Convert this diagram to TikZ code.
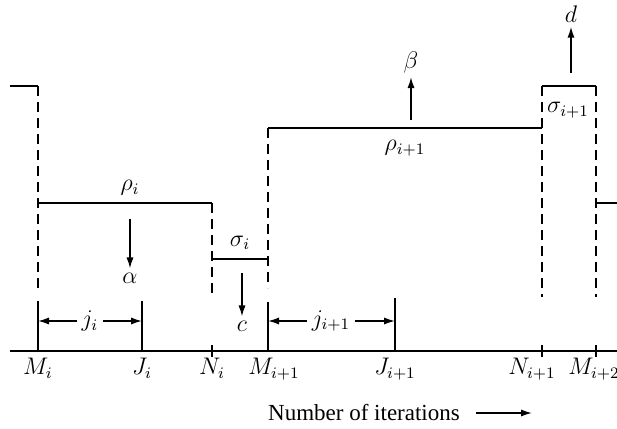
\documentclass[tikz,border=0pt]{standalone}
\usepackage{amsmath,amssymb}
\usepackage{fontspec}
\setmainfont{Liberation Serif}
\usetikzlibrary{arrows.meta}

\tikzset{
  level/.style={line width=1.1pt},
  guide/.style={line width=0.7pt, dash pattern=on 5pt off 3pt},
  tickline/.style={line width=0.7pt},
  pointer/.style={line width=0.8pt, -{Latex[length=5.5pt, width=3.6pt]}},
  lab/.style={inner sep=2pt},
  axlab/.style={below, inner xsep=0.5pt}
}

\begin{document}
\begin{tikzpicture}[x=0.5pt, y=-0.5pt, every node/.style={font=\fontsize{11.5}{13}\selectfont}]
\useasboundingbox (0,0) rectangle (617,429);

% positions on the iteration axis
\coordinate (Mi)   at (38,351);
\coordinate (Ji)   at (142,351);
\coordinate (Ni)   at (212,351);
\coordinate (Mii)  at (268,351);
\coordinate (Jii)  at (395,351);
\coordinate (Nii)  at (542,351);
\coordinate (Miii) at (596,351);

% axis
\draw[level] (10,351) -- (617,351);

% step levels
\draw[level] (10,86) -- (38,86);
\draw[level] (38,203) -- (212,203);
\draw[level] (212,259) -- (268,259);
\draw[level] (268,128) -- (542,128);
\draw[level] (542,86) -- (596,86);
\draw[level] (596,203) -- (617,203);

% dashed guides
\draw[guide] (38,86) -- (38,290);
\draw[guide] (212,203) -- (212,297);
\draw[guide] (268,128) -- (268,288);
\draw[guide] (542,86) -- (542,297);
\draw[guide] (596,86) -- (596,297);

% ticks
\draw[tickline] (Mi) -- ++(0,-50);
\draw[tickline] (Ji) -- ++(0,-50);
\draw[tickline] (Mii) -- ++(0,-49);
\draw[tickline] (Jii) -- ++(0,-53);
\foreach \p in {Ni,Nii,Miii}
  \draw[tickline] (\p) ++(0,-6) -- ++(0,12);

% axis labels
\node[axlab] (lMi)   at (Mi)   {$M_i$};
\node[axlab] (lJi)   at (Ji)   {$J_i$};
\node[axlab] (lNi)   at (Ni)   {$N_i$};
\node[axlab] (lMii)  at ([xshift=3]Mii)  {$M_{i+1}$};
\node[axlab] (lJii)  at (Jii)  {$J_{i+1}$};
\node[axlab] (lNii)  at ([xshift=-5]Nii)  {$N_{i+1}$};
\node[axlab] (lMiii) at ([xshift=-1]Miii) {$M_{i+2}$};

% level labels
\node[lab] (rhoi)   at (130,188) {$\rho_i$};
\node[lab] (sigi)   at (240,243) {$\sigma_i$};
\node[lab] (rhoii)  at (405,148) {$\rho_{i+1}$};
\node[lab] (sigii)  at (568,110) {$\sigma_{i+1}$};

% changes of the levels
\coordinate (alphastart) at (130,219);
\node[lab] (alpha) at (130,278) {$\alpha$};
\draw[pointer] (alphastart) -- (alpha);
\coordinate (cstart) at (242,273);
\node[lab] (c) at (242,326) {$c$};
\draw[pointer] (cstart) -- (c);
\coordinate (betastart) at (411,120);
\node[lab] (beta) at (411,62) {$\beta$};
\draw[pointer] (betastart) -- (beta);
\coordinate (dstart) at (571,73);
\node[lab] (d) at (571,14) {$d$};
\draw[pointer] (dstart) -- (d);

% spans
\node[lab] (ji) at (90,321) {$j_i$};
\draw[pointer] (ji) -- (ji -| Mi);
\draw[pointer] (ji) -- (ji -| Ji);
\node[lab] (jii) at (331,321) {$j_{i+1}$};
\draw[pointer] (jii) -- (jii -| Mii);
\draw[pointer] (jii) -- (jii -| Jii);

% axis title
\node[inner sep=2pt] (niter) at (364,413) {Number of iterations};
\coordinate (niterend) at (532,413);
\draw[pointer] ([xshift=6]niter.east) -- (niterend);
\end{tikzpicture}
\end{document}
